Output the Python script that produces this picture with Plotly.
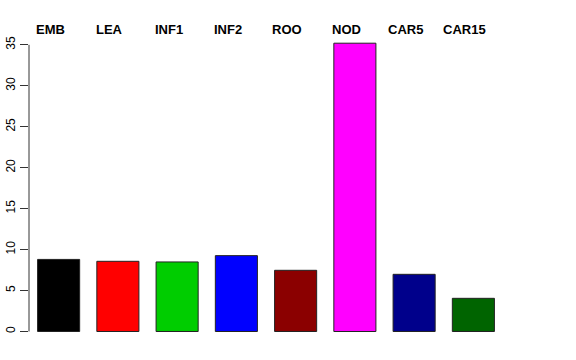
import plotly.graph_objects as go

categories = ["EMB", "LEA", "INF1", "INF2", "ROO", "NOD", "CAR5", "CAR15"]
values = [8.8, 8.57, 8.49, 9.26, 7.47, 35.2, 6.98, 4.05]
colors = ["#000000", "#FF0000", "#00CD00", "#0000FF", "#8B0000", "#FF00FF", "#00008B", "#006400"]
ytick_vals = [0, 5, 10, 15, 20, 25, 30, 35]

fig = go.Figure()
fig.add_trace(go.Bar(
    x=list(range(len(categories))), y=values,
    marker=dict(color=colors, line=dict(color="#222222", width=1)),
    width=0.71, showlegend=False, hoverinfo="skip",
))

for i, c in enumerate(categories):
    fig.add_annotation(x=i - 0.144, y=1.019, xref="x", yref="paper",
                       text=f"<b>{c}</b>", showarrow=False,
                       xanchor="center", yanchor="middle",
                       font=dict(family="Liberation Sans, Arial, sans-serif", size=13, color="black"))

fig.add_shape(type="line", xref="paper", yref="y", x0=0, x1=0,
              y0=ytick_vals[0], y1=ytick_vals[-1], line=dict(color="#333333", width=1))

fig.update_layout(
    width=576, height=360,
    margin=dict(l=29, r=73, t=35, b=15),
    plot_bgcolor="white", paper_bgcolor="white",
    xaxis=dict(range=[-0.5, 7.5], showticklabels=False, showgrid=False, automargin=False,
               zeroline=False, showline=False, ticks=""),
    yaxis=dict(range=[-1.65, 36.2], tickvals=ytick_vals, ticks="outside", ticklen=8,
               tickcolor="#333333", tickangle=-90, showgrid=False, zeroline=False,
               showline=False, ticklabelstandoff=0, automargin=False,
               tickfont=dict(family="Liberation Sans, Arial, sans-serif", size=12, color="black")),
    font=dict(family="Liberation Sans, Arial, sans-serif"),
)

fig.write_html("out.html")
